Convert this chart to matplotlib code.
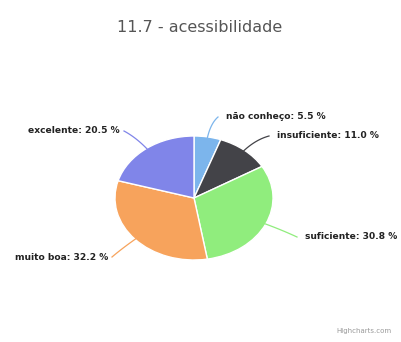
import matplotlib
matplotlib.use("Agg")
import matplotlib.pyplot as plt
import numpy as np

categories = ["não conheço", "insuficiente", "suficiente", "muito boa", "excelente"]
values = [5.5, 11.0, 30.8, 32.2, 20.5]
colors = ["#7cb5ec", "#434348", "#90ed7d", "#f7a35c", "#8085e9"]
title = "11.7 - acessibilidade"

W, H = 402, 342
fig = plt.figure(figsize=(W / 100, H / 100), dpi=100)
ax = fig.add_axes([0, 0, 1, 1])
ax.set_axis_off()

# pixel geometry of the ellipse
cx, cy = 194, 198          # centre (pixels from top-left)
rx, ry = 79, 62            # radii in pixels

wedges, _ = ax.pie(values, colors=colors, startangle=90, counterclock=False,
                   radius=1, center=(0, 0),
                   wedgeprops=dict(edgecolor="white", linewidth=1))
ax.set_xlim(-cx / rx, (W - cx) / rx)
ax.set_ylim(-(H - cy) / ry, cy / ry)
ax.set_aspect("auto")

def px(x, y):
    return ((x - cx) / rx, (cy - y) / ry)

# label anchor positions (pixels) and alignment
label_pos = [(226, 117, "left"), (277, 136, "left"), (305, 237, "left"),
             (108, 257, "right"), (120, 131, "right")]

total = sum(values)
start = 90.0
for i, (cat, v, col) in enumerate(zip(categories, values, colors)):
    ang = start - (v / total) * 360 / 2
    start -= (v / total) * 360
    a = np.deg2rad(ang)
    x0, y0 = 0.98 * np.cos(a), 0.98 * np.sin(a)
    lx, ly, ha = label_pos[i]
    ex = lx - 8 if ha == "left" else lx + 4
    x1, y1 = px(ex, ly)
    xm, ym = 1.22 * np.cos(a), 1.22 * np.sin(a)
    t = np.linspace(0, 1, 30)
    bx = (1 - t) ** 2 * x0 + 2 * (1 - t) * t * xm + t ** 2 * x1
    by = (1 - t) ** 2 * y0 + 2 * (1 - t) * t * ym + t ** 2 * y1
    ax.plot(bx, by, color=col, lw=0.9, clip_on=False)
    tx, ty = px(lx, ly)
    ax.text(tx, ty, f"{cat}: {v:.1f} %", ha=ha, va="center",
            fontsize=6.6, fontweight="bold", color="#222222")

fig.text(200 / W, 1 - 28 / H, title, ha="center", va="center",
         fontsize=11.5, color="#555555")
fig.text(392 / W, 1 - 331 / H, "Highcharts.com", ha="right", va="center",
         fontsize=5, color="#999999")

fig.savefig("out.png", dpi=100)
